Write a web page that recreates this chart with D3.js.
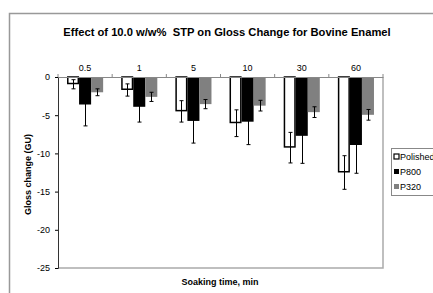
<!DOCTYPE html>
<html>
<head>
<meta charset="utf-8">
<script src="https://cdn.jsdelivr.net/npm/d3@7"></script>
<style>
  body { margin: 0; background: #fff; }
  text { font-family: "Liberation Sans", Arial, sans-serif; fill: #000; }
</style>
</head>
<body>
<svg width="433" height="293"></svg>
<script>
var times = ["0.5", "1", "5", "10", "30", "60"];
var seriesNames = ["Polished", "P800", "P320"];
var polished = [-0.95, -1.7, -4.5, -6.05, -9.25, -12.5];
var polishedErr = [0.6, 0.8, 1.4, 1.75, 2.0, 2.2];
var p800 = [-3.6, -3.9, -5.75, -5.85, -7.7, -8.9];
var p800Err = [2.8, 2.0, 2.9, 3.0, 3.6, 3.7];
var p320 = [-2.0, -2.6, -3.55, -3.75, -4.6, -4.95];
var p320Err = [0.45, 0.6, 0.6, 0.7, 0.7, 0.7];
var yTicks = [0, -5, -10, -15, -20, -25];

var fills = ["#fff", "#000", "#808080"];
var values = [polished, p800, p320];
var errs = [polishedErr, p800Err, p320Err];

var plotLeft = 58, plotRight = 383, plotTop = 77, plotBottom = 268;

var svg = d3.select("svg");

// outer chart frame
svg.append("rect")
    .attr("x", 9.5).attr("y", 13.5)
    .attr("width", 440).attr("height", 300)
    .attr("fill", "none").attr("stroke", "#999").attr("stroke-width", 1.5);

var x = d3.scaleBand()
            .domain(times)
            .range([plotLeft, plotRight]);

// Excel gap width 150%: bar = band / 4.5
var barW = x.bandwidth() / 4.5;
var groupOffset = (x.bandwidth() - 3 * barW) / 2;

var y = d3.scaleLinear()
            .domain([-25, 0])
            .range([plotBottom, plotTop]);

// plot border (right & bottom gray)
svg.append("path")
    .attr("d", "M" + plotRight + "," + plotTop + "V" + plotBottom + "H" + plotLeft)
    .attr("fill", "none").attr("stroke", "#aaa").attr("stroke-width", 1.5);

var rows = [];
times.forEach(function(t, i){
  seriesNames.forEach(function(s, j){
    rows.push({time: t, s: j, v: values[j][i], e: errs[j][i]});
  });
});

var bars = svg.append("g");
bars.selectAll("rect")
    .data(rows)
    .enter()
    .append("rect")
      .attr("x", d => x(d.time) + groupOffset + d.s * barW + (d.s === 0 ? 0.75 : 0))
      .attr("y", d => y(0))
      .attr("width", d => d.s === 0 ? barW - 1.5 : barW)
      .attr("height", d => y(d.v) - y(0) - (d.s === 0 ? 0.75 : 0))
      .attr("fill", d => fills[d.s])
      .attr("stroke", d => d.s === 0 ? "#000" : "none")
      .attr("stroke-width", 1.5);

// error bars
var eg = svg.append("g").attr("stroke", "#000").attr("stroke-width", 1);
rows.forEach(function(d){
  var cx = Math.round(x(d.time) + groupOffset + d.s * barW + barW / 2) + 0.5;
  var y1 = y(d.v + d.e), y2 = y(d.v - d.e);
  eg.append("line").attr("x1", cx).attr("x2", cx).attr("y1", y1).attr("y2", y2);
  eg.append("line").attr("x1", cx - 2).attr("x2", cx + 2).attr("y1", y1).attr("y2", y1);
  eg.append("line").attr("x1", cx - 2).attr("x2", cx + 2).attr("y1", y2).attr("y2", y2);
});

// y axis
var yAxis = svg.append("g")
    .attr("transform", "translate(" + plotLeft + ",0)")
    .call(d3.axisLeft(y).tickValues(yTicks).tickFormat(d => String(d)).tickSize(3).tickPadding(5));
yAxis.select(".domain").attr("stroke", "#333");
yAxis.selectAll("text").style("font-size", "9px").style("font-family", "Liberation Sans, Arial");

// x axis on zero line, labels above
var xAxis = svg.append("g")
    .attr("transform", "translate(0," + y(0) + ")")
    .call(d3.axisTop(x).tickSize(0).tickPadding(6));
xAxis.select(".domain").attr("stroke", "#888");
xAxis.selectAll("text").style("font-size", "9px").style("font-family", "Liberation Sans, Arial");
// category boundary ticks
svg.append("g").selectAll("line")
    .data(times.concat(["end"]))
    .enter().append("line")
      .attr("x1", d => d === "end" ? plotRight : x(d))
      .attr("x2", d => d === "end" ? plotRight : x(d))
      .attr("y1", y(0) - 3).attr("y2", y(0))
      .attr("stroke", "#888");

// title
svg.append("text")
    .attr("x", 227).attr("y", 36)
    .attr("text-anchor", "middle")
    .attr("xml:space", "preserve")
    .style("font-size", "11.2px").style("font-weight", "bold")
    .text("Effect of 10.0 w/w%  STP on Gloss Change for Bovine Enamel");

svg.append("text")
    .attr("transform", "translate(31," + ((plotTop + plotBottom) / 2 + 2) + ") rotate(-90)")
    .attr("text-anchor", "middle")
    .style("font-size", "9px").style("font-weight", "bold")
    .text("Gloss change (GU)");

svg.append("text")
    .attr("x", 220).attr("y", 285)
    .attr("text-anchor", "middle")
    .style("font-size", "9px").style("font-weight", "bold")
    .text("Soaking time, min");

// legend
var lg = svg.append("g").attr("transform", "translate(391,148)");
lg.append("rect")
    .attr("x", 0.5).attr("y", 0.5).attr("width", 60).attr("height", 47)
    .attr("fill", "#fff").attr("stroke", "#888");
seriesNames.forEach(function(s, j){
  var yy = 9 + j * 15;
  lg.append("rect")
      .attr("x", 3).attr("y", yy - 3).attr("width", 5).attr("height", 5)
      .attr("fill", fills[j])
      .attr("stroke", j === 0 ? "#000" : "none").attr("stroke-width", 1.2);
  lg.append("text")
      .attr("x", 9).attr("y", yy + 3)
      .style("font-size", "9px")
      .text(s);
});
</script>
</body>
</html>
